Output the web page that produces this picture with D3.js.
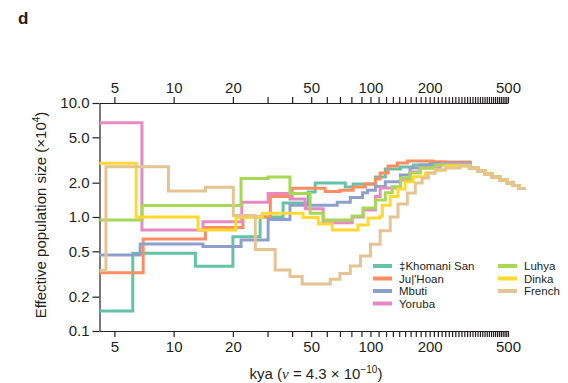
<!DOCTYPE html>
<html>
<head>
<meta charset="utf-8">
<script src="https://cdn.jsdelivr.net/npm/d3@7"></script>
<style>
  body { margin: 0; background: #fff; }
  text { font-family: "Liberation Sans", Arial, sans-serif; fill: #231f20; }
</style>
</head>
<body>
<svg id="chart" width="568" height="383"></svg>
<script>
// populations, in drawing order (French ends up on top)
const populations = ['\u2021Khomani San', "Ju|'Hoan", 'Mbuti', 'Yoruba', 'Luhya', 'Dinka', 'French'];

// step data: [kya, Ne (x10^4)], each value holds until the next time
const khomani = [[4.2, 0.15], [6.2, 0.48], [12.9, 0.37], [20, 0.67], [27.5, 1.0], [36, 1.33],
  [48.3, 1.66], [52.4, 1.99], [74.5, 1.83], [81.7, 1.95], [106, 2.24], [119, 2.64],
  [142, 2.74], [165, 2.86], [201, 2.97], [240, 2.97]];
const juhoan = [[4.2, 0.325], [7.0, 0.64], [14.5, 0.81], [22.5, 1.0], [31, 1.51], [40, 1.79],
  [58.9, 1.67], [70, 1.72], [81.7, 1.83], [94.2, 1.95], [106, 2.15], [112, 2.43],
  [123, 2.8], [137, 2.97], [154, 3.1], [208, 3.05], [240, 3.04]];
const mbuti = [[4.2, 0.464], [6.76, 0.58], [14.1, 0.55], [22, 0.63], [30.2, 0.95], [39, 1.27],
  [67.8, 1.35], [79, 1.48], [91.2, 1.63], [96.6, 1.72], [106, 1.85], [119, 2.04],
  [142, 2.34], [159, 2.69], [179, 2.86], [213, 2.95], [240, 2.97]];
const yoruba = [[4.2, 6.72], [6.9, 0.77], [14.1, 0.91], [22.2, 1.35], [30.2, 1.61], [39, 1.44],
  [46.6, 1.18], [57.5, 0.89], [80.8, 1.0], [91.8, 1.15], [106, 1.51], [112, 1.8],
  [142, 2.11], [159, 2.48], [179, 2.69], [226, 2.92], [240, 2.92]];
const luhya = [[4.2, 0.94], [6.9, 1.26], [22, 2.18], [30.2, 2.24], [39, 1.61], [49.4, 1.08],
  [57.5, 0.94], [80.8, 1.02], [91.8, 1.2], [106, 1.41], [119, 1.63], [129, 1.84],
  [142, 2.2], [159, 2.43], [179, 2.69], [213, 2.86], [240, 2.86]];
const dinka = [[4.2, 2.96], [6.45, 1.0], [13.3, 0.77], [20.7, 0.99], [28.2, 1.08], [45.5, 0.99],
  [54.3, 0.87], [64, 0.77], [86.5, 0.85], [97.3, 0.98], [112, 1.02], [115, 1.27],
  [126, 1.51], [138, 1.76], [150, 2.04], [165, 2.26], [190, 2.43], [213, 2.58], [240, 2.8]];
const french = [[4.2, 0.34], [4.53, 2.76], [9.41, 1.69], [14.5, 1.82], [20.1, 1.03], [26, 0.52],
  [32.8, 0.343], [39, 0.3], [45, 0.258], [62.5, 0.284], [70, 0.32], [79, 0.372],
  [89, 0.455], [100, 0.576], [112, 0.758], [126, 1.0], [138, 1.3], [154, 1.62],
  [169, 1.99], [183, 2.2], [197, 2.43], [213, 2.58], [240, 2.69], [286, 2.8]];
// shared decline past ~300 kya where all curves merge
const tail = [[321, 2.69], [353, 2.53], [383, 2.38], [416, 2.24], [457, 2.11], [496, 1.99],
  [532, 1.89], [570, 1.78], [612, 1.78]];

const seriesData = [khomani, juhoan, mbuti, yoruba, luhya, dinka, french];

const xTicks = [5, 10, 20, 30, 40, 50, 60, 70, 80, 90, 100, 110, 120, 130, 140, 150, 160, 170,
  180, 190, 200, 210, 220, 230, 240, 250, 260, 270, 280, 290, 300, 310, 320, 330, 340, 350,
  360, 370, 380, 390, 400, 410, 420, 430, 440, 450, 460, 470, 480, 490, 500];
const xLabels = [5, 10, 20, 50, 100, 200, 500];
const yTicks = [0.1, 0.2, 0.5, 1, 2, 5, 10];

const svg = d3.select('#chart');
const colors = d3.schemeSet2;

const x = d3.scaleLog().domain([4.2, 500]).range([99.5, 508]);
const y = d3.scaleLog().domain([0.1, 10]).range([331, 103]);

const xFormat = d => xLabels.includes(d) ? d : '';

const axisBottomG = svg.append('g')
  .attr('transform', 'translate(0,331)')
  .call(d3.axisBottom(x).tickValues(xTicks).tickFormat(xFormat).tickSize(6).tickSizeOuter(0).tickPadding(4));
const axisTopG = svg.append('g')
  .attr('transform', 'translate(0,103)')
  .call(d3.axisTop(x).tickValues(xTicks).tickFormat(xFormat).tickSize(6).tickSizeOuter(0).tickPadding(4));
const axisLeftG = svg.append('g')
  .attr('transform', 'translate(99.5,0)')
  .call(d3.axisLeft(y).tickValues(yTicks).tickFormat(d3.format('.1f')).tickSize(7).tickSizeOuter(0).tickPadding(3));

[axisBottomG, axisTopG, axisLeftG].forEach(g => {
  g.selectAll('path, line').attr('stroke', '#231f20').attr('stroke-width', 1.2);
  g.selectAll('text').attr('font-size', 15).attr('font-family', '"Liberation Sans", Arial, sans-serif');
});

const line = d3.line()
  .x(d => x(d[0]))
  .y(d => y(d[1]))
  .curve(d3.curveStepAfter);

seriesData.forEach((s, i) => {
  svg.append('path')
    .attr('d', line(s.concat(tail)))
    .attr('fill', 'none')
    .attr('stroke', colors[i])
    .attr('stroke-width', 3);
});

// legend
const legend = svg.append('g').attr('font-size', 11.5);
populations.forEach((name, i) => {
  const col = i < 4 ? 0 : 1;
  const row = i < 4 ? i : i - 4;
  const lx = col === 0 ? 373 : 498;
  const ly = 266 + row * 12.5;
  legend.append('line')
    .attr('x1', lx).attr('x2', lx + 19)
    .attr('y1', ly).attr('y2', ly)
    .attr('stroke', colors[i]).attr('stroke-width', 4);
  legend.append('text')
    .attr('x', lx + 26).attr('y', ly)
    .attr('dy', '0.36em')
    .text(name);
});

// axis titles
svg.append('text')
  .attr('x', 316).attr('y', 379)
  .attr('text-anchor', 'middle')
  .attr('font-size', 15)
  .call(t => {
    t.append('tspan').text('kya (');
    t.append('tspan').attr('font-style', 'italic').attr('font-family', '"Liberation Serif", serif').text('\u03bd');
    t.append('tspan').text(' = 4.3 \u00d7 10');
    t.append('tspan').attr('font-size', 10).attr('dy', -6).text('\u221210');
    t.append('tspan').attr('dy', 6).text(')');
  });

svg.append('text')
  .attr('transform', 'translate(46,215) rotate(-90)')
  .attr('text-anchor', 'middle')
  .attr('font-size', 15)
  .call(t => {
    t.append('tspan').text('Effective population size (\u00d710');
    t.append('tspan').attr('font-size', 10).attr('dy', -6).text('4');
    t.append('tspan').attr('dy', 6).text(')');
  });

svg.append('text')
  .attr('x', 18).attr('y', 24)
  .attr('font-size', 17)
  .attr('font-weight', 'bold')
  .text('d');
</script>
</body>
</html>
